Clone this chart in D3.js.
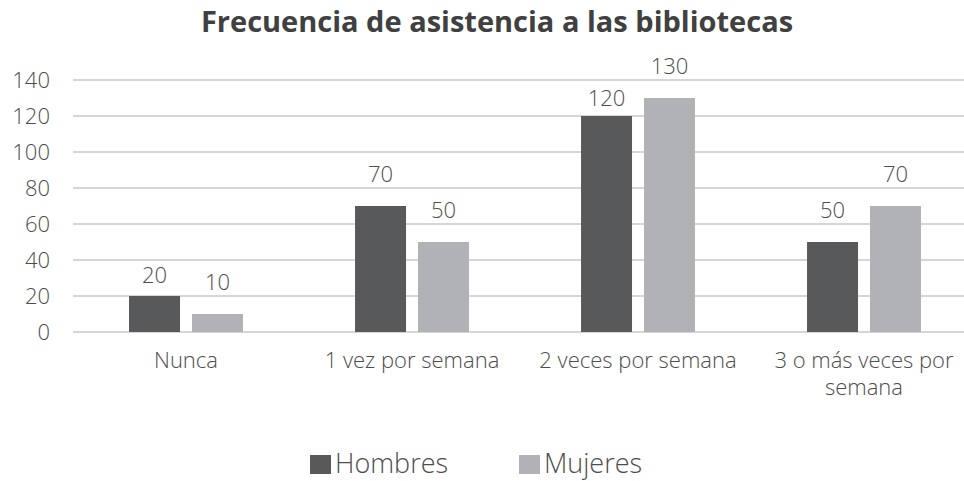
<!DOCTYPE html>
<html>
<head>
<meta charset="utf-8">
<script src="https://cdn.jsdelivr.net/npm/d3@7"></script>
<style>
  body { margin: 0; background: #fff; }
  text { font-family: "Open Sans", "Noto Sans", sans-serif; fill: #404040; }
  .light { font-weight: 300; fill: #4d4d4d; }
</style>
</head>
<body>
<div class="canvas"></div>
<script>
const categories = ["Nunca", "1 vez por semana", "2 veces por semana", "3 o más veces por semana"];
const series = ["Hombres", "Mujeres"];
const hombres = [20, 70, 120, 50];
const mujeres = [10, 50, 130, 70];
const yTicks = [0, 20, 40, 60, 80, 100, 120, 140];

const colors = { Hombres: "#58595b", Mujeres: "#b1b2b5" };

// labels sit 24px above the bar; two were dragged closer in the original
const labelGap = 24;
const labelNudge = { "Hombres|Nunca": 11, "Hombres|2 veces por semana": 14 };

const dims = { width: 964, height: 481 };
const plot = { left: 73, right: 977, top: 80, bottom: 332 };

const rows = categories.map((c, i) => ({ cat: c, Hombres: hombres[i], Mujeres: mujeres[i] }));

const svg = d3
  .select(".canvas")
  .append("svg")
  .attr("width", dims.width)
  .attr("height", dims.height);

svg
  .append("text")
  .text("Frecuencia de asistencia a las bibliotecas")
  .attr("x", 497)
  .attr("y", 32)
  .attr("text-anchor", "middle")
  .attr("font-size", 29)
  .attr("font-weight", 700)
  .attr("fill", "#3a3a3a");

const y = d3.scaleLinear().domain([0, 140]).range([plot.bottom, plot.top]);

const x0 = d3.scaleBand().domain(categories).range([plot.left, plot.right]);

const x1 = d3
  .scaleBand()
  .domain(series)
  .range([0, x0.bandwidth()])
  .paddingInner(0.19)
  .paddingOuter(0.89);

// gridlines
svg
  .append("g")
  .selectAll("line")
  .data(yTicks)
  .enter()
  .append("line")
  .attr("x1", plot.left)
  .attr("x2", plot.right)
  .attr("y1", (d) => y(d))
  .attr("y2", (d) => y(d))
  .attr("stroke", "#c9c9c9")
  .attr("stroke-width", 1.5);

// y tick labels
svg
  .append("g")
  .selectAll("text")
  .data(yTicks)
  .enter()
  .append("text")
  .attr("class", "light")
  .text((d) => d)
  .attr("x", 50)
  .attr("y", (d) => y(d))
  .attr("dy", "0.35em")
  .attr("text-anchor", "end")
  .attr("font-size", 22);

const groups = svg
  .append("g")
  .selectAll("g")
  .data(rows)
  .enter()
  .append("g")
  .attr("transform", (d) => `translate(${x0(d.cat)}, 0)`);

const bars = groups
  .selectAll("g")
  .data((d) => series.map((s) => ({ key: s, cat: d.cat, value: d[s] })))
  .enter()
  .append("g");

bars
  .append("rect")
  .attr("x", (d) => x1(d.key))
  .attr("y", (d) => y(d.value))
  .attr("width", x1.bandwidth())
  .attr("height", (d) => y(0) - y(d.value))
  .attr("fill", (d) => colors[d.key]);

bars
  .append("text")
  .attr("class", "light")
  .text((d) => d.value)
  .attr("x", (d) => x1(d.key) + x1.bandwidth() / 2)
  .attr("y", (d) => y(d.value) - labelGap + (labelNudge[d.key + "|" + d.cat] || 0))
  .attr("text-anchor", "middle")
  .attr("font-size", 22);

// category labels, wrapped to the band
const catLabels = svg
  .append("g")
  .selectAll("text")
  .data(categories)
  .enter()
  .append("text")
  .attr("class", "light")
  .attr("x", (d) => x0(d) + x0.bandwidth() / 2)
  .attr("y", 368)
  .attr("text-anchor", "middle")
  .attr("font-size", 22)
  .text((d) => d);

const wrap = (sel, width) => {
  sel.each(function () {
    const t = d3.select(this);
    const words = t.text().split(" ");
    const cx = t.attr("x");
    t.text(null);
    let line = [];
    let tspan = t.append("tspan").attr("x", cx);
    words.forEach((w) => {
      line.push(w);
      tspan.text(line.join(" "));
      if (tspan.node().getComputedTextLength() > width && line.length > 1) {
        line.pop();
        tspan.text(line.join(" "));
        line = [w];
        tspan = t.append("tspan").attr("x", cx).attr("dy", 27).text(w);
      }
    });
  });
};

catLabels.call(wrap, 212);

// legend
const legend = svg
  .append("g")
  .selectAll("g")
  .data(series)
  .enter()
  .append("g")
  .attr("transform", (d, i) => `translate(${310 + i * 209}, 0)`);

legend
  .append("rect")
  .attr("x", 0)
  .attr("y", 455)
  .attr("width", 21)
  .attr("height", 19)
  .attr("fill", (d) => colors[d]);

legend
  .append("text")
  .attr("class", "light")
  .text((d) => d)
  .attr("x", 25)
  .attr("y", 473)
  .attr("font-size", 27);
</script>
</body>
</html>
